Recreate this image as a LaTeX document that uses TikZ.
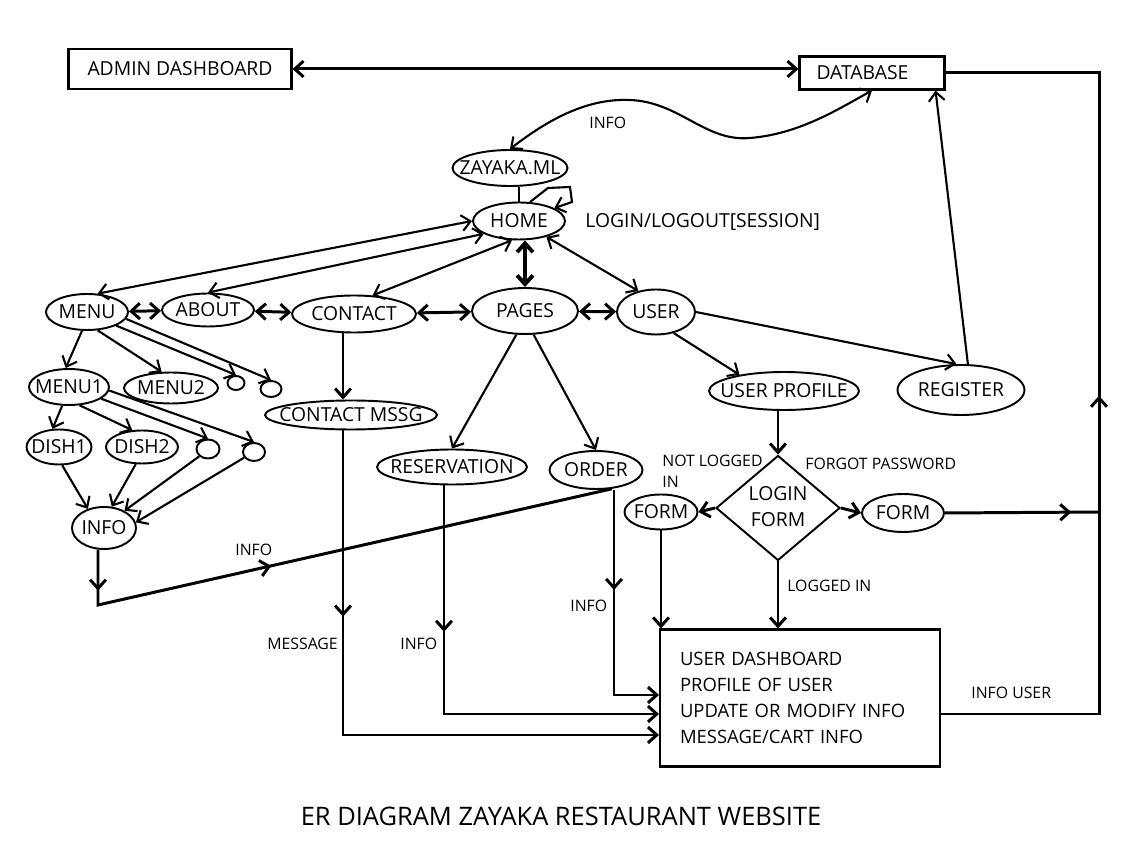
\documentclass[tikz,border=0pt]{standalone}
\usepackage{fontspec}
\setmainfont{Open Sans}
\usepackage{tikz}
\usetikzlibrary{positioning}
\usetikzlibrary{arrows.meta, shapes.geometric, decorations.markings}

\newcommand{\zw}[1]{\makebox[0pt]{#1}}

\begin{document}
\begin{tikzpicture}[x=0.02cm, y=-0.02cm,
  font=\fontsize{11}{15}\selectfont,
  >={Straight Barb[length=5pt,width=9pt]},
  ent/.style = {draw, ellipse, line width=1.1pt, inner sep=0pt},
  box/.style = {draw, rectangle, line width=1.2pt},
  lbl/.style = {font=\fontsize{9}{12}\selectfont, inner sep=0pt, anchor=west},
  conn/.style = {line width=1.2pt},
  thickconn/.style = {line width=1.7pt},
  midarr/.style = {postaction={decorate, decoration={markings, mark=at position #1 with {\arrow{>}}}}}]
\useasboundingbox (0,0) rectangle (1147,857);

% top
\node[box, minimum width=4.46cm, minimum height=.8cm] (admin) at (180,69) {ADMIN DASHBOARD};
\node[box, minimum height=.66cm, text width=2.22cm, inner xsep=.34cm, align=left] (db) at (872,73) {DATABASE};
\node[ent, minimum width=2.3cm, minimum height=.72cm] (zayaka) at (510,168) {\zw{ZAYAKA.ML}};
\node[ent, minimum width=1.84cm, minimum height=.74cm] (home) at (519,221) {\zw{HOME}};

% pages row
\node[ent, minimum width=1.64cm, minimum height=.72cm] (menu) at (87,312) {\zw{MENU}};
\node[ent, minimum width=1.84cm, minimum height=.66cm] (about) at (208,310) {\zw{ABOUT}};
\node[ent, minimum width=2.48cm, minimum height=.74cm] (contact) at (354,314) {\zw{CONTACT}};
\node[ent, minimum width=2.12cm, minimum height=.92cm] (pages) at (525,311) {\zw{PAGES}};
\node[ent, minimum width=1.56cm, minimum height=.9cm] (user) at (656,312) {\zw{USER}};

% menu tree
\node[ent, minimum width=1.6cm, minimum height=.72cm] (menu1) at (69,387) {\zw{MENU1}};
\node[ent, minimum width=1.88cm, minimum height=.62cm] (menu2) at (171,388) {\zw{MENU2}};
\node[ent, minimum width=.34cm, minimum height=.28cm] (c1) at (236,383) {};
\node[ent, minimum width=.42cm, minimum height=.32cm] (c2) at (271,389) {};
\node[ent, minimum width=1.3cm, minimum height=.7cm] (dish1) at (59,447) {\zw{DISH1}};
\node[ent, minimum width=1.44cm, minimum height=.66cm] (dish2) at (142,447) {\zw{DISH2}};
\node[ent, minimum width=.46cm, minimum height=.38cm] (c3) at (208,449) {};
\node[ent, minimum width=.44cm, minimum height=.36cm] (c4) at (254,452) {};
\node[ent, minimum width=1.28cm, minimum height=.84cm] (info) at (104,528) {\zw{INFO}};

% lower part
\node[ent, minimum width=3.44cm, minimum height=.58cm] (cmsg) at (351,415) {\zw{CONTACT MSSG}};
\node[ent, minimum width=3cm, minimum height=.7cm] (resv) at (452,467) {\zw{RESERVATION}};
\node[ent, minimum width=1.86cm, minimum height=.76cm] (order) at (596,470) {\zw{ORDER}};
\node[ent, minimum width=3cm, minimum height=.76cm] (uprof) at (784,391) {\zw{USER PROFILE}};
\node[ent, minimum width=2.54cm, minimum height=1cm] (reg) at (961,390) {\zw{REGISTER}};
\node[draw, diamond, line width=1.1pt, inner sep=0pt, minimum width=2.48cm, minimum height=2.1cm] (login) at (778,508) {\zw{\begin{tabular}{@{}c@{}}LOGIN\\FORM\end{tabular}}};
\node[ent, minimum width=1.46cm, minimum height=.7cm] (forml) at (661,512) {\zw{FORM}};
\node[ent, minimum width=1.64cm, minimum height=.76cm] (formr) at (903,513) {\zw{FORM}};
\node[box, font=\fontsize{10.5}{14.7}\selectfont, text width=4.8cm, inner xsep=.4cm, minimum height=2.74cm, align=left] (dash) at (800,698) {USER DASHBOARD\\PROFILE OF USER\\UPDATE OR MODIFY INFO\\MESSAGE/CART INFO};

\coordinate (rt) at (1099,73);
\coordinate (rb) at (1099,714);
\coordinate (fr) at (1099,512);
\coordinate (ib) at (98,605);
\coordinate (mb) at (343,735);
\coordinate (vb) at (444,714);
\coordinate (ob) at (614,695);

% database links
\draw[thickconn, <->] (admin) -- (admin -| db.west);
\draw[thickconn, midarr=.5] (dash.east |- rb) -- (rb) -- (rt) -- (db.east);
\draw[conn, <->] (zayaka.north) .. controls (545,122) and (585,98) .. (630,100) .. controls (680,102) and (705,142) .. (750,138) .. controls (800,134) and (840,108) .. (db.south);
\node[lbl] (tinfo) at (589,123) {INFO};
\draw[conn] (home.north) -- (home.north |- zayaka.south);
\draw[conn, ->] (home.60) -- (548,188) -- (570,187) -- (572,202) -- (home.20);
\node[lbl, font=\fontsize{11}{13}\selectfont] (sess) at (585,222) {LOGIN/LOGOUT[SESSION]};

% home
\draw[conn, <->] (home.west) -- (menu.60);
\draw[conn, <->] (home.200) -- (about.north);
\draw[conn, <->] (home.250) -- (contact.45);
\draw[<->, line width=2.2pt] (pages.north) -- (pages.north |- home.south);
\draw[conn, <->] (home.-30) -- (user.130);
\draw[thickconn, <->] (menu) -- (about);
\draw[thickconn, <->] (about) -- (contact);
\draw[thickconn, <->] (contact) -- (pages);
\draw[thickconn, <->] (pages) -- (user);

% menu
\draw[conn, ->] (menu.255) -- (menu1.100);
\draw[conn, ->] (menu.-60) -- (menu2.120);
\draw[conn, ->] (menu.-25) -- (c1.north);
\draw[conn, ->] (menu.-10) -- (c2.north);
\draw[conn, ->] (menu1.250) -- (dish1.110);
\draw[conn, ->] (menu1.-60) -- (dish2.120);
\draw[conn, ->] (menu1.-20) -- (c3.north);
\draw[conn, ->] (menu1.-5) -- (c4.north);
\draw[conn, ->] (dish1.-80) -- (info.130);
\draw[conn, ->] (dish2.250) -- (info.70);
\draw[conn, ->] (c3.220) -- (info.40);
\draw[conn, ->] (c4.210) -- (info.10);
\draw[thickconn, midarr=.07, midarr=.4] (info.south -| ib) -- (ib) -- (order.-50);
\node[lbl] (linfo) at (235,550) {INFO};

% contact, pages
\draw[thickconn, ->] (contact.south -| mb) -- (cmsg.north -| mb);
\draw[thickconn, midarr=.3, ->] (cmsg.south -| mb) -- (mb) -- (dash.west |- mb);
\node[lbl] (msg) at (267,644) {MESSAGE};
\draw[conn, ->] (pages.250) -- (resv.north);
\draw[conn, ->] (pages.290) -- (order.north);
\draw[thickconn, midarr=.33, ->] (resv.south -| vb) -- (vb) -- (dash.west |- vb);
\node[lbl] (rinfo) at (400,644) {INFO};
\draw[thickconn, midarr=.4, ->] (order.south -| ob) -- (ob) -- (dash.west |- ob);
\node[lbl] (oinfo) at (570,606) {INFO};

% user
\draw[conn, ->] (user.-50) -- (uprof.160);
\draw[conn, ->] (user.east) -- (reg.100);
\draw[conn, ->] (reg.75) -- ([xshift=-.2cm]db.south east);
\draw[thickconn, ->] (uprof.south -| login.north) -- (login.north);
\draw[thickconn, ->] (login.west) -- (forml.east);
\draw[thickconn, ->] (login.east) -- (formr.west);
\draw[thickconn, midarr=.82] (formr.east) -- (fr);
\draw[thickconn, ->] (forml.south) -- (forml.south |- dash.north);
\draw[thickconn, ->] (login.south) -- (login.south |- dash.north);
\node[lbl, anchor=north west, align=left] (nli) at (662,455) {NOT LOGGED\\IN};
\node[lbl] (fpw) at (805,464) {FORGOT PASSWORD};
\node[lbl] (lgi) at (787,586) {LOGGED IN};
\node[lbl] (iuser) at (971,693) {INFO USER};

\node (title) at (561,816) {\fontsize{14.5}{17}\selectfont ER DIAGRAM ZAYAKA RESTAURANT WEBSITE};
\end{tikzpicture}
\end{document}
